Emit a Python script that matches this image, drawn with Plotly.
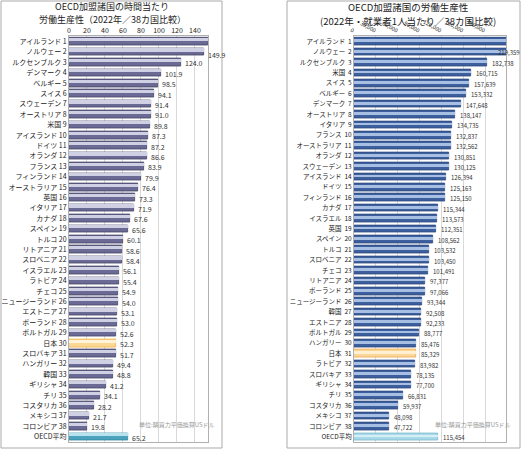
import plotly.graph_objects as go

# ---------------- data ----------------
hour_names = ["アイルランド", "ノルウェー", "ルクセンブルク", "デンマーク", "ベルギー", "スイス",
              "スウェーデン", "オーストリア", "米国", "アイスランド", "ドイツ", "オランダ", "フランス",
              "フィンランド", "オーストラリア", "英国", "イタリア", "カナダ", "スペイン", "トルコ",
              "リトアニア", "スロベニア", "イスラエル", "ラトビア", "チェコ", "ニュージーランド",
              "エストニア", "ポーランド", "ポルトガル", "日本", "スロバキア", "ハンガリー", "韓国",
              "ギリシャ", "チリ", "コスタリカ", "メキシコ", "コロンビア", "OECD平均"]
hour_values = [154.1, 149.9, 124.0, 101.9, 98.5, 94.1, 91.4, 91.0, 89.8, 87.3, 87.2, 86.6, 83.9,
               79.9, 76.4, 73.3, 71.9, 67.6, 65.6, 60.1, 58.6, 58.4, 56.1, 55.4, 54.9, 54.0,
               53.1, 53.0, 52.6, 52.3, 51.7, 49.4, 48.8, 41.2, 34.1, 28.2, 21.7, 19.8, 65.2]

worker_names = ["アイルランド", "ノルウェー", "ルクセンブルク", "米国", "スイス", "ベルギー",
                "デンマーク", "オーストリア", "イタリア", "フランス", "オーストラリア", "オランダ",
                "スウェーデン", "アイスランド", "ドイツ", "フィンランド", "カナダ", "イスラエル",
                "英国", "スペイン", "トルコ", "スロベニア", "チェコ", "リトアニア", "ポーランド",
                "ニュージーランド", "韓国", "エストニア", "ポルトガル", "ハンガリー", "日本",
                "ラトビア", "スロバキア", "ギリシャ", "チリ", "コスタリカ", "メキシコ", "コロンビア",
                "OECD平均"]
worker_values = [255296, 219359, 182738, 160715, 157639, 153332, 147648, 138147, 134735, 132837,
                 132562, 130851, 130125, 126394, 125163, 125150, 115344, 113573, 112351, 108562,
                 103532, 103450, 101491, 97377, 97066, 93344, 92508, 92233, 88777, 85476, 85329,
                 83982, 78135, 77700, 66831, 59937, 48098, 47722, 115454]

hour_ticks = [0, 20, 40, 60, 80, 100, 120, 140]
worker_ticks = [0, 30000, 60000, 90000, 120000, 150000, 180000]

title_left = ["OECD加盟諸国の時間当たり", "労働生産性（2022年／38カ国比較）"]
title_right = ["OECD加盟諸国の労働生産性", "(2022年・就業者1人当たり／38カ国比較)"]
note = "単位:購買力平価換算USドル"

# ---------------- layout helpers ----------------
W, H = 530, 450
FONT = "Noto Sans CJK JP"
HOUR_MAX = 154.5
WORK_MAX = 208800


def fx(px):
    return px / W


def fy(py):
    return 1 - py / H


def labels(names, sep):
    out = []
    for i, nm in enumerate(names):
        out.append(nm if nm.startswith("OECD") else f"{nm}{sep}{i + 1}")
    return out


def pick(names, normal, japan, avg):
    return [japan if nm == "日本" else avg if nm.startswith("OECD") else normal for nm in names]


fig = go.Figure()

n = len(hour_names)
idx = list(range(n))

# left panel bars (base + highlight to mimic gradient)
fig.add_trace(go.Bar(
    x=hour_values, y=idx, orientation="h", width=0.72, offset=-0.36,
    marker=dict(color=pick(hour_names, "#6a6a94", "#fbd995", "#4aa2bd"),
                line=dict(color=pick(hour_names, "#3a3a5c", "#f0a838", "#2f8199"), width=0.7)),
    xaxis="x", yaxis="y", hoverinfo="skip", showlegend=False))
fig.add_trace(go.Bar(
    x=hour_values, y=idx, orientation="h", width=0.3, offset=-0.3,
    marker=dict(color=pick(hour_names, "#d0d0e4", "#fff4da", "#b8e3ee"), line=dict(width=0)),
    xaxis="x", yaxis="y", hoverinfo="skip", showlegend=False))

# right panel bars
fig.add_trace(go.Bar(
    x=worker_values, y=idx, orientation="h", width=0.72, offset=-0.36,
    marker=dict(color=pick(worker_names, "#3d5f9e", "#fbd69a", "#a9d9e8"),
                line=dict(color=pick(worker_names, "#2a4578", "#eda040", "#6fb2ca"), width=0.7)),
    xaxis="x2", yaxis="y2", hoverinfo="skip", showlegend=False))
fig.add_trace(go.Bar(
    x=worker_values, y=idx, orientation="h", width=0.26, offset=-0.17,
    marker=dict(color=pick(worker_names, "#a6bfe2", "#fff0d2", "#d6eff6"), line=dict(width=0)),
    xaxis="x2", yaxis="y2", hoverinfo="skip", showlegend=False))

annotations = []
# value labels left
for i, v in enumerate(hour_values):
    a = dict(x=min(v, HOUR_MAX), y=i, xref="x", yref="y", text=f"{v:.1f}", showarrow=False,
             xanchor="left", yanchor="middle", xshift=2, yshift=-1,
             font=dict(size=7, color="#333", family=FONT))
    if i == 0:
        a.update(y=i - 1.15, xshift=-3, yshift=0)
    elif i == 1:
        a.update(yshift=-3)
    annotations.append(a)
# value labels right
for i, v in enumerate(worker_values):
    a = dict(x=min(v, WORK_MAX), y=i, xref="x2", yref="y2", text=f"{v:,}", showarrow=False,
             xanchor="left", yanchor="middle", xshift=3, yshift=-1,
             font=dict(size=6, color="#333", family=FONT))
    if i == 0:
        a.update(y=i - 1.15, xanchor="center", xshift=5, yshift=0)
    elif i == 1:
        a.update(xshift=-10, yshift=0)
    annotations.append(a)

# titles (one annotation per line)
for line, ypx in zip(title_left, [7, 19.5]):
    annotations.append(dict(x=fx(112), y=fy(ypx), xref="paper", yref="paper", text=line,
                            xanchor="center", yanchor="middle", showarrow=False, borderpad=0,
                            font=dict(size=9, color="#222", family=FONT)))
for line, ypx in zip(title_right, [7, 21]):
    annotations.append(dict(x=fx(408), y=fy(ypx), xref="paper", yref="paper", text=line,
                            xanchor="center", yanchor="middle", showarrow=False, borderpad=0,
                            font=dict(size=9.5, color="#222", family=FONT)))
# notes
annotations.append(dict(x=fx(217), y=fy(424), xref="paper", yref="paper", text=note,
                        showarrow=False, xanchor="right", yanchor="middle",
                        font=dict(size=6, color="#999", family=FONT)))
annotations.append(dict(x=fx(513), y=fy(424), xref="paper", yref="paper", text=note,
                        showarrow=False, xanchor="right", yanchor="middle",
                        font=dict(size=6, color="#999", family=FONT)))

shapes = [
    dict(type="rect", xref="paper", yref="paper", x0=fx(1), x1=fx(222), y0=fy(448), y1=fy(1),
         line=dict(color="#aaa", width=1)),
    dict(type="rect", xref="paper", yref="paper", x0=fx(287), x1=fx(520), y0=fy(448), y1=fy(1),
         line=dict(color="#aaa", width=1)),
]

axis_common = dict(showgrid=True, gridcolor="#d9d9d9", gridwidth=1, zeroline=False,
                   showline=True, mirror=True, linecolor="#b0b0b0", linewidth=1, ticks="",
                   fixedrange=True, automargin=False)
yaxis_common = dict(showgrid=False, zeroline=False, showline=True, mirror=True,
                    linecolor="#b0b0b0", ticks="", fixedrange=True, automargin=False)

fig.update_layout(
    width=W, height=H, margin=dict(l=0, r=0, t=0, b=0, autoexpand=False),
    paper_bgcolor="white", plot_bgcolor="white", barmode="overlay", bargap=0,
    font=dict(family=FONT, color="#222"),
    xaxis=dict(domain=[fx(69), fx(208)], range=[0, HOUR_MAX], side="top", anchor="y",
               tickvals=hour_ticks, ticktext=[str(t) for t in hour_ticks],
               tickfont=dict(size=7, color="#222"), **axis_common),
    yaxis=dict(domain=[fy(442), fy(36.4)], range=[n - 0.5, -0.5], anchor="x",
               tickvals=idx, ticktext=labels(hour_names, " "),
               tickfont=dict(size=7, color="#222"), **yaxis_common),
    xaxis2=dict(domain=[fx(354), fx(506)], range=[0, WORK_MAX], side="top", anchor="y2",
                tickvals=worker_ticks, ticktext=[f"{t:,}" for t in worker_ticks],
                tickfont=dict(size=5.5, color="#222"), **axis_common),
    yaxis2=dict(domain=[fy(442), fy(36.4)], range=[n - 0.5, -0.5], anchor="x2",
                tickvals=idx, ticktext=labels(worker_names, "  "),
                tickfont=dict(size=6.5, color="#222"), **yaxis_common),
    annotations=annotations, shapes=shapes,
)

fig.write_html("out.html", config={"displayModeBar": False},
               post_script="document.body.style.margin='0px';")
